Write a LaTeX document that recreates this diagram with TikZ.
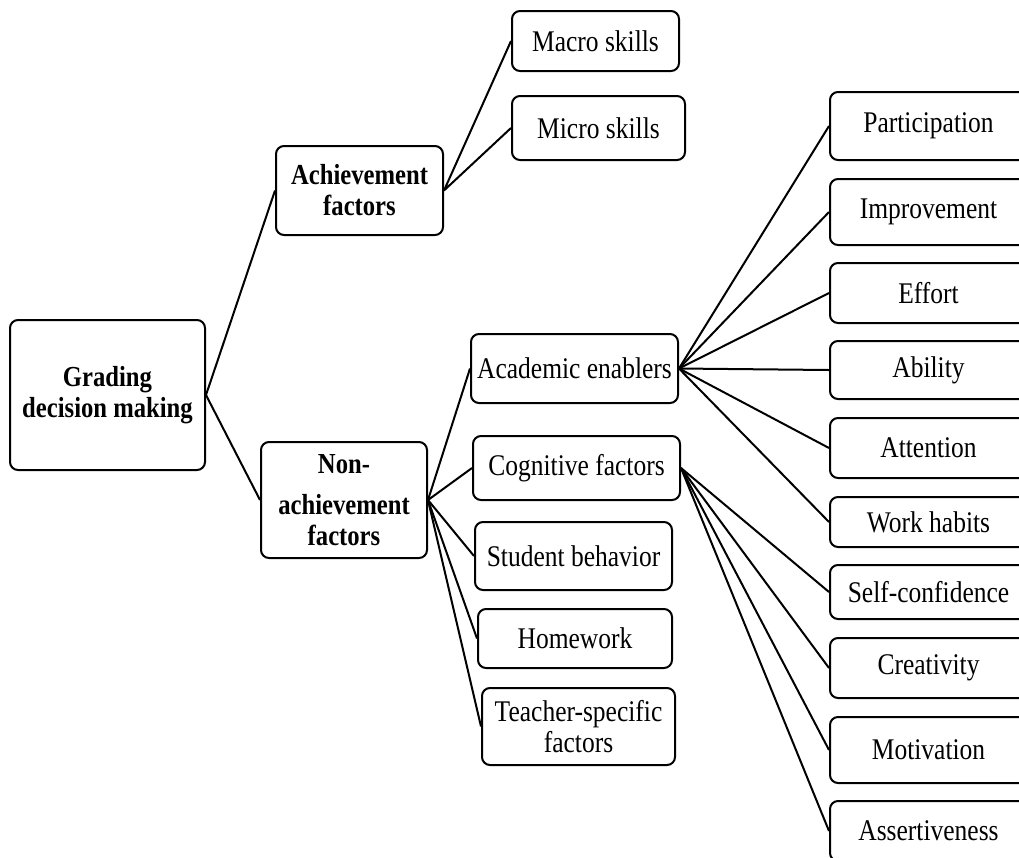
\documentclass[tikz,border=0pt]{standalone}
\usepackage{fontspec}
\setmainfont{Liberation Serif}[FakeStretch=0.85]
\usepackage{tikz}
\usetikzlibrary{positioning}

\begin{document}
\begin{tikzpicture}[x=1pt,y=-1pt,
    box/.style={draw, rounded corners=8pt, line width=2pt, inner sep=0pt, align=center,
      font=\fontsize{30}{31}\selectfont},
    head/.style={box, font=\fontsize{29}{31}\selectfont\bfseries},
    link/.style={line width=2pt}]
    \useasboundingbox (0,0) rectangle (1019,857);

    % --- root and first level ---
    \node[head, minimum width=195pt, minimum height=150pt] (grade) at (107.5,395) {Grading\\decision making};
    \node[head, minimum width=167pt, minimum height=89pt] (ach) at (359.5,190.5) {Achievement\\factors};
    \node[head, minimum width=166pt, minimum height=116pt] (nonach) at (344,500) {Non-\\[10pt]achievement\\factors};
    \draw[link] (grade.east)--(ach.west) (grade.east)--(nonach.west);

    % --- achievement factors ---
    \node[box, minimum width=167pt, minimum height=60pt] (macro) at (595.5,41) {Macro skills};
    \node[box, minimum width=173pt, minimum height=64pt] (micro) at (598.5,128) {Micro skills};
    \draw[link] (ach.east)--(macro.west) (ach.east)--(micro.west);

    % --- non-achievement factors ---
    \node[box, minimum width=207pt, minimum height=69pt] (acad) at (574.5,368.5) {Academic enablers};
    \node[box, minimum width=207pt, minimum height=64pt] (cogn) at (576.5,468) {Cognitive factors};
    \node[box, minimum width=197pt, minimum height=68pt] (behav) at (573.5,556) {Student behavior};
    \node[box, minimum width=194pt, minimum height=59pt] (hwork) at (575,638.5) {Homework};
    \node[box, minimum width=193pt, minimum height=77pt] (teach) at (578.5,726.5) {Teacher-specific\\factors};
    \foreach \n in {acad,cogn,behav,hwork,teach}
      \draw[link] (nonach.east)--(\n.west);

    % --- academic enablers ---
    \node[box, minimum width=197pt, minimum height=68pt] (partic) at (928.5,126) {Participation};
    \node[box, minimum width=197pt, minimum height=66pt] (improv) at (928.5,212) {Improvement};
    \node[box, minimum width=197pt, minimum height=60pt] (effort) at (928.5,293) {Effort};
    \node[box, minimum width=197pt, minimum height=58pt] (abil) at (928.5,370) {Ability};
    \node[box, minimum width=197pt, minimum height=60pt] (atten) at (928.5,448) {Attention};
    \node[box, minimum width=197pt, minimum height=50pt] (habits) at (928.5,522) {Work habits};
    \foreach \n in {partic,improv,effort,abil,atten,habits}
      \draw[link] (acad.east)--(\n.west);

    % --- cognitive factors ---
    \node[box, minimum width=197pt, minimum height=54pt] (selfc) at (928.5,592) {Self-confidence};
    \node[box, minimum width=197pt, minimum height=60pt] (creat) at (928.5,668) {Creativity};
    \node[box, minimum width=197pt, minimum height=66pt] (motiv) at (928.5,750) {Motivation};
    \node[box, minimum width=197pt, minimum height=60pt] (assert) at (928.5,831) {Assertiveness};
    \foreach \n in {selfc,creat,motiv,assert}
      \draw[link] (cogn.east)--(\n.west);
\end{tikzpicture}
\end{document}
